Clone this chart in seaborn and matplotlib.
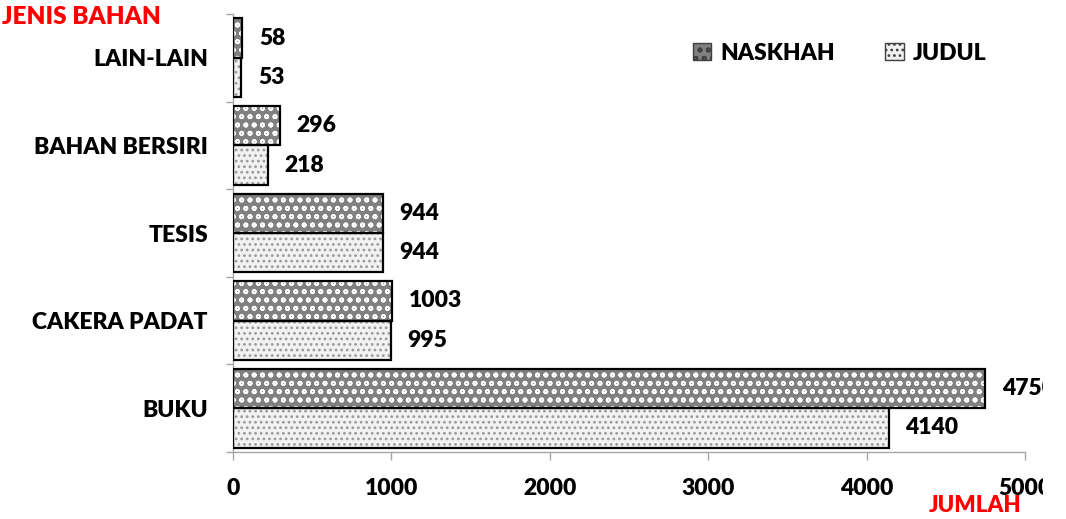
import matplotlib
matplotlib.use('Agg')
import matplotlib.pyplot as plt
import seaborn as sns
import pandas as pd
from matplotlib.patches import Rectangle, Patch

categories = ['LAIN-LAIN', 'BAHAN BERSIRI', 'TESIS', 'CAKERA PADAT', 'BUKU']
naskhah = [58, 296, 944, 1003, 4750]
judul = [53, 218, 944, 995, 4140]
series = ['NASKHAH', 'JUDUL']
xticks = [0, 1000, 2000, 3000, 4000, 5000]

sns.set_theme(style='white')
plt.rcParams['font.family'] = ['Lato', 'DejaVu Sans']
plt.rcParams['font.weight'] = 'heavy'
plt.rcParams['hatch.linewidth'] = 1.2
plt.rcParams['text.color'] = 'black'

FS = 16.5
WT = 'heavy'

df = pd.DataFrame({
    'JENIS BAHAN': categories * 2,
    'JUMLAH': naskhah + judul,
    'SIRI': [series[0]] * len(naskhah) + [series[1]] * len(judul),
})

W, H = 1066, 519
fig = plt.figure(figsize=(W / 100, H / 100), dpi=100)
ax = fig.add_axes([233 / W, 1 - 452 / H, (1025 - 233) / W, (452 - 14) / H])

faces = {'NASKHAH': '#808080', 'JUDUL': '#f2f2f2'}
hatches = {'NASKHAH': ('oo', 'white'), 'JUDUL': ('...', '#9a9a9a')}

sns.barplot(data=df, y='JENIS BAHAN', x='JUMLAH', hue='SIRI', order=categories,
            hue_order=series, palette=[faces[s] for s in series], width=0.9,
            orient='h', legend=False, ax=ax, saturation=1)

for cont, s in zip(ax.containers, series):
    h, hc = hatches[s]
    for p in cont:
        p.set_hatch(h)
        p.set_edgecolor(hc)
        p.set_linewidth(0)
        ax.add_patch(Rectangle(p.get_xy(), p.get_width(), p.get_height(), fill=False,
                               edgecolor='black', linewidth=1.6, zorder=3))
    ax.bar_label(cont, padding=12, fontsize=FS, fontweight=WT, color='black')

ax.set_xlim(0, 5000)
ax.set_ylim(len(categories) - 0.5, -0.5)
ax.set_xticks(xticks)
ax.set_xticklabels([str(t) for t in xticks])
ax.set_xlabel('')
ax.set_ylabel('')
ax.tick_params(axis='x', length=6, width=1, color='#a6a6a6', direction='out',
               pad=13, labelsize=FS, bottom=True, labelcolor='black')
ax.tick_params(axis='y', length=0, pad=18, labelsize=FS, left=True, labelcolor='black')
ax.set_yticks([i - 0.5 for i in range(len(categories) + 1)], minor=True)
ax.tick_params(axis='y', which='minor', length=5, width=1, color='#a6a6a6', left=True)
for lab in ax.get_xticklabels() + ax.get_yticklabels():
    lab.set_fontweight(WT)
sns.despine(ax=ax)
for sp in ['left', 'bottom']:
    ax.spines[sp].set_color('#a6a6a6')
    ax.spines[sp].set_linewidth(1)

fig.text(2 / W, 1 - 17 / H, 'JENIS BAHAN', color='#ff0000', fontsize=17.5,
         fontweight=WT, va='center', ha='left')
fig.text(1022 / W, 1 - 506 / H, 'JUMLAH', color='#ff0000', fontsize=16,
         fontweight=WT, va='center', ha='right')

handles = [Patch(facecolor=faces[s], edgecolor='#404040', hatch=hatches[s][0]) for s in series]
leg = fig.legend(handles, series, loc='center left', bbox_to_anchor=(672 / W, 1 - 53 / H),
                 bbox_transform=fig.transFigure, ncol=2, frameon=False, handlelength=0.8,
                 handleheight=0.8, columnspacing=2.2, handletextpad=0.4,
                 prop={'weight': WT, 'size': FS})
for t in leg.get_texts():
    t.set_color('black')

# original image is cut off at the right edge
fig.add_artist(Rectangle((1043 / W, 0), 1 - 1043 / W, 1, transform=fig.transFigure,
                         facecolor='white', edgecolor='none', zorder=20))

fig.savefig('out.png', dpi=100)
